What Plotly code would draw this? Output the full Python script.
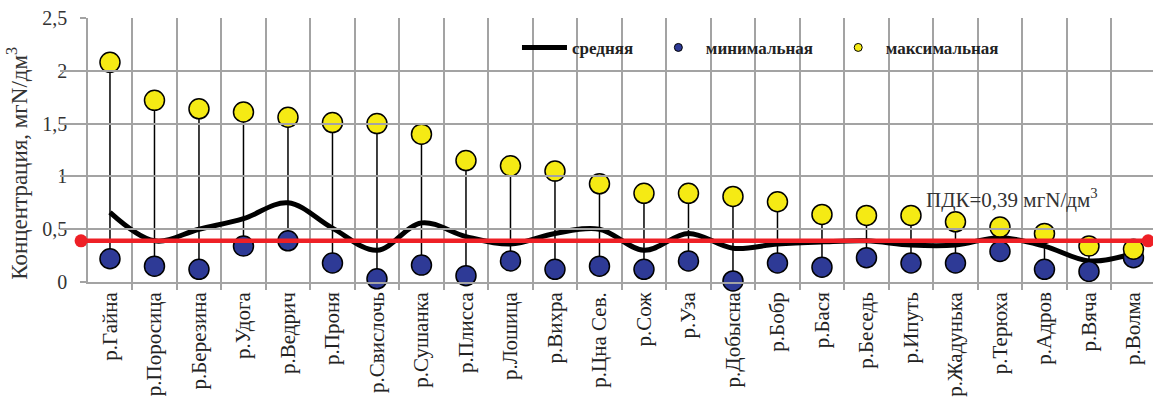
import plotly.graph_objects as go

# Rivers and nitrogen concentration statistics (мгN/дм³)
rivers = ["р.Гайна", "р.Поросица", "р.Березина", "р.Удога", "р.Ведрич", "р.Проня",
          "р.Свислочь", "р.Сушанка", "р.Плисса", "р.Лошица", "р.Вихра", "р.Цна Сев.",
          "р.Сож", "р.Уза", "р.Добысна", "р.Бобр", "р.Бася", "р.Беседь", "р.Ипуть",
          "р.Жадунька", "р.Терюха", "р.Адров", "р.Вяча", "р.Волма"]
mean_vals = [0.66, 0.39, 0.50, 0.60, 0.75, 0.51, 0.30, 0.56, 0.43, 0.36, 0.46, 0.50,
             0.30, 0.46, 0.32, 0.36, 0.38, 0.39, 0.35, 0.35, 0.42, 0.34, 0.20, 0.27]
min_vals = [0.22, 0.15, 0.12, 0.34, 0.39, 0.18, 0.03, 0.16, 0.06, 0.20, 0.12, 0.15,
            0.12, 0.20, 0.01, 0.18, 0.14, 0.23, 0.18, 0.18, 0.29, 0.12, 0.10, 0.23]
max_vals = [2.08, 1.72, 1.64, 1.61, 1.56, 1.51, 1.50, 1.40, 1.15, 1.10, 1.05, 0.93,
            0.84, 0.84, 0.81, 0.76, 0.64, 0.63, 0.63, 0.57, 0.52, 0.46, 0.34, 0.31]
pdk_value = 0.39
pdk_span = [-0.65, 23.33]
y_ticks = [0, 0.5, 1, 1.5, 2, 2.5]

FONT = "Liberation Serif"
BLUE = "#2E3A96"
YELLOW = "#F5EA14"
RED = "#EE2026"
GRID = "#A3A3A3"
NBSP = "\u00a0"

# geometry: figure width, left margin, axis start and category step in px
W, ML, AXIS_PX, STEP = 1153, 60, 88, 44.5
x_lo = -0.494
x_hi = x_lo + (W - AXIS_PX) / STEP
x2_lo = x_lo - (AXIS_PX - ML) / STEP

xs = list(range(len(rivers)))

# high-low stems from minimum to maximum
stem_x, stem_y = [], []
for i, lo, hi in zip(xs, min_vals, max_vals):
    stem_x += [i, i, None]
    stem_y += [lo, hi, None]

fig = go.Figure()
fig.add_trace(go.Scatter(x=stem_x, y=stem_y, mode="lines",
                         line=dict(color="black", width=1.5),
                         showlegend=False, hoverinfo="skip", cliponaxis=False))
fig.add_trace(go.Scatter(x=xs, y=mean_vals, mode="lines",
                         line=dict(color="black", width=5, shape="spline", smoothing=1.0),
                         showlegend=False, cliponaxis=False))
fig.add_trace(go.Scatter(x=xs, y=min_vals, mode="markers",
                         marker=dict(color=BLUE, size=20, line=dict(color="black", width=1.5)),
                         showlegend=False, cliponaxis=False))
fig.add_trace(go.Scatter(x=xs, y=max_vals, mode="markers",
                         marker=dict(color=YELLOW, size=20, line=dict(color="black", width=1.5)),
                         showlegend=False, cliponaxis=False))
# limit line on a wider companion axis so its left end can sit past the y axis
fig.add_trace(go.Scatter(x=pdk_span, y=[pdk_value, pdk_value], mode="lines+markers",
                         xaxis="x2", yaxis="y",
                         line=dict(color=RED, width=4.5),
                         marker=dict(color=RED, size=13),
                         showlegend=False, cliponaxis=False))

# legend entries with compact symbols
fig.add_trace(go.Scatter(x=[None], y=[None], mode="lines", name="средняя" + NBSP * 3,
                         line=dict(color="black", width=5)))
fig.add_trace(go.Scatter(x=[None], y=[None], mode="markers", name="минимальная" + NBSP * 3,
                         marker=dict(color=BLUE, size=8, line=dict(color="black", width=1))))
fig.add_trace(go.Scatter(x=[None], y=[None], mode="markers", name="максимальная",
                         marker=dict(color=YELLOW, size=8, line=dict(color="black", width=1))))

fig.add_annotation(x=20.27, y=0.79, xref="x", yref="y",
                   text="ПДК=0,39 мгN/дм<sup>3</sup>", showarrow=False,
                   font=dict(family=FONT, size=21, color="#333333"))

# y-axis caption
fig.add_annotation(x=-0.0384, y=0.448, xref="paper", yref="paper",
                   text="Концентрация, мгN/дм<sup>3</sup>", showarrow=False, textangle=-90,
                   xanchor="center", yanchor="middle",
                   font=dict(family=FONT, size=23, color="#333333"))

dom0 = (AXIS_PX - ML) / (W - ML)
fig.update_layout(
    width=W, height=401,
    margin=dict(l=ML, r=0, t=18, b=119),
    paper_bgcolor="white", plot_bgcolor="rgba(0,0,0,0)",
    separators=", ",
    font=dict(family=FONT, color="#333333"),
    legend=dict(orientation="h", x=0.4181, y=0.955, xanchor="left", yanchor="top",
                bgcolor="rgba(0,0,0,0)", itemwidth=45,
                font=dict(family=FONT, size=17, color="#222222", weight="bold")),
    xaxis=dict(domain=[dom0, 1], range=[x_lo, x_hi], tickmode="array", tickvals=xs,
               ticktext=rivers, tickangle=-90, ticks="", showgrid=False, zeroline=False,
               showline=True, linecolor=GRID, linewidth=1.5,
               tickfont=dict(family=FONT, size=21, color="#222222"),
               minor=dict(tick0=-0.5, dtick=1, showgrid=True, gridcolor=GRID,
                          gridwidth=1.5, ticks="outside", ticklen=6,
                          tickcolor=GRID, tickwidth=1.5)),
    xaxis2=dict(domain=[0, 1], range=[x2_lo, x_hi], anchor="y", visible=False,
                showgrid=False, zeroline=False),
    yaxis=dict(range=[0, 2.5], tickvals=y_ticks, showgrid=True, gridcolor=GRID,
               gridwidth=1.5, zeroline=False, showline=True, linecolor=GRID,
               linewidth=1.5, ticks="outside", ticklen=6, tickcolor=GRID, tickwidth=1.5,
               ticklabelstandoff=9,
               tickfont=dict(family=FONT, size=20, color="#333333")),
)

fig.write_html("out.html")
